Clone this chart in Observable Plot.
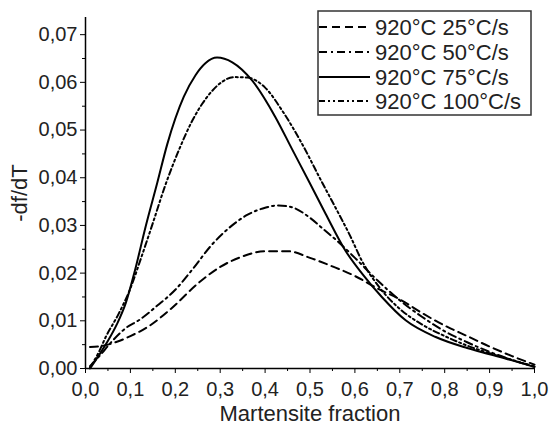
<!DOCTYPE html>
<html>
<head>
<meta charset="utf-8">
<script src="https://cdn.jsdelivr.net/npm/d3@7"></script>
<script src="https://cdn.jsdelivr.net/npm/@observablehq/plot@0.6"></script>
<style>
  html, body { margin: 0; padding: 0; background: #fff; }
  #wrap { position: relative; width: 549px; height: 428px; font-family: "Liberation Sans", Arial, sans-serif; }
  #legend { position: absolute; left: 0; top: 0; }
</style>
</head>
<body>
<div id="wrap"></div>
<script>
// ---- tick values ----
const xTicks = [0, 0.1, 0.2, 0.3, 0.4, 0.5, 0.6, 0.7, 0.8, 0.9, 1.0];
const xMinor = [0.05, 0.15, 0.25, 0.35, 0.45, 0.55, 0.65, 0.75, 0.85, 0.95];
const yTicks = [0, 0.01, 0.02, 0.03, 0.04, 0.05, 0.06, 0.07];
const yMinor = [0.005, 0.015, 0.025, 0.035, 0.045, 0.055, 0.065];

// ---- axis titles and series labels ----
const xTitle = "Martensite fraction";
const yTitle = "-df/dT";
const seriesNames = ["920°C 25°C/s", "920°C 50°C/s", "920°C 75°C/s", "920°C 100°C/s"];

// ---- 920°C 25°C/s (dashed) ----
const x25 = [0.01,0.04,0.07,0.10,0.14,0.19,0.25,0.30,0.35,0.40,0.45,0.50,0.55,0.60,0.65,0.70,0.75,0.80,0.85,0.90,0.95,1.00];
const y25 = [0.0045,0.0048,0.0056,0.0068,0.0088,0.0125,0.0178,0.0213,0.0235,0.0246,0.0246,0.0232,0.0214,0.0194,0.0168,0.0145,0.0116,0.0090,0.0068,0.0046,0.0026,0.0008];

// ---- 920°C 50°C/s (dash-dot) ----
const x50 = [0.01,0.03,0.06,0.09,0.12,0.16,0.20,0.24,0.28,0.32,0.36,0.40,0.43,0.46,0.50,0.53,0.56,0.60,0.65,0.70,0.75,0.80,0.85,0.90,0.95,1.00];
const y50 = [0.0005,0.0025,0.0058,0.0085,0.0102,0.0132,0.0165,0.0210,0.0258,0.0295,0.0322,0.0337,0.0342,0.0338,0.0316,0.0292,0.0268,0.0232,0.0185,0.0143,0.0108,0.0078,0.0055,0.0035,0.0018,0.0004];

// ---- 920°C 75°C/s (solid) ----
const x75 = [0.01,0.03,0.05,0.07,0.09,0.11,0.134,0.16,0.182,0.219,0.245,0.267,0.293,0.327,0.371,0.423,0.46,0.50,0.535,0.579,0.616,0.66,0.713,0.78,0.85,0.90,0.95,1.00];
const y75 = [0.0000,0.0028,0.0058,0.0093,0.0138,0.0205,0.0298,0.0390,0.0470,0.0570,0.0615,0.0640,0.0652,0.0642,0.0604,0.0527,0.0460,0.0388,0.0324,0.0247,0.0199,0.0150,0.0101,0.0066,0.0043,0.0030,0.0017,0.0003];

// ---- 920°C 100°C/s (dash-dot-dot) ----
const x100 = [0.01,0.03,0.045,0.074,0.10,0.125,0.15,0.178,0.208,0.238,0.26,0.282,0.304,0.33,0.36,0.40,0.44,0.48,0.527,0.557,0.59,0.616,0.653,0.70,0.75,0.80,0.85,0.90,0.95,1.00];
const y100 = [0.0002,0.0035,0.0066,0.0115,0.0168,0.0235,0.0305,0.0385,0.0458,0.0520,0.0555,0.0582,0.0601,0.0611,0.0610,0.0589,0.0538,0.0475,0.0390,0.0337,0.0277,0.0225,0.0172,0.0125,0.0092,0.0068,0.0048,0.0032,0.0018,0.0004];

const dashes = ["8,5", "8,4,2,4", null, "6,3,2,3,2,3"];

const toRows = (xs, ys) => xs.map((x, i) => ({x, y: ys[i]}));
const seriesData = [toRows(x25, y25), toRows(x50, y50), toRows(x75, y75), toRows(x100, y100)];

const fmtX = d => d.toFixed(1).replace(".", ",");
const fmtY = d => d.toFixed(2).replace(".", ",");
const FONT = "Liberation Sans, Arial, sans-serif";

const lineMarks = seriesData.map((rows, i) =>
  Plot.line(rows, {x: "x", y: "y", stroke: "#000", strokeWidth: 2, strokeDasharray: dashes[i] ?? undefined, curve: "monotone-x"})
);

const chart = Plot.plot({
  width: 549,
  height: 428,
  marginTop: 17,
  marginRight: 15,
  marginBottom: 60,
  marginLeft: 85,
  style: {fontFamily: FONT, fontSize: "20px", color: "#222", background: "#fff"},
  x: {domain: [0, 1]},
  y: {domain: [0, 0.0736]},
  marks: [
    Plot.axisX(xMinor, {tickSize: 3, tickFormat: () => "", label: null, stroke: "#000"}),
    Plot.axisX(xTicks, {tickSize: 5, tickPadding: 8, tickFormat: fmtX, fontSize: 20, fill: "#222", stroke: "#000", label: null}),
    Plot.axisY(yMinor, {tickSize: 3, tickFormat: () => "", label: null, stroke: "#000"}),
    Plot.axisY(yTicks, {tickSize: 5, tickPadding: 3, tickFormat: fmtY, fontSize: 20, fill: "#222", stroke: "#000", label: null}),
    Plot.text([xTitle], {frameAnchor: "bottom", lineAnchor: "middle", textAnchor: "middle", dy: 45, fontSize: 22, fill: "#222"}),
    Plot.text([yTitle], {frameAnchor: "left", lineAnchor: "middle", textAnchor: "middle", dx: -66, rotate: -90, fontSize: 22, fill: "#222"}),
    Plot.ruleX([0], {stroke: "#000", strokeWidth: 1.5}),
    Plot.ruleY([0], {stroke: "#000", strokeWidth: 1.5}),
    ...lineMarks
  ]
});

const wrap = document.getElementById("wrap");
wrap.appendChild(chart);

// ---- legend (box inside plot, top right) ----
const lg = d3.select(wrap).append("svg")
  .attr("id", "legend")
  .attr("width", 549).attr("height", 428)
  .style("pointer-events", "none");
const box = {x: 318, y: 11, w: 213, h: 104};
lg.append("rect").attr("x", box.x).attr("y", box.y).attr("width", box.w).attr("height", box.h)
  .attr("fill", "#fff").attr("stroke", "#333").attr("stroke-width", 1.5);
const rowY = [27, 52, 77, 101];
seriesNames.forEach((name, i) => {
  const l = lg.append("line").attr("x1", box.x + 1).attr("x2", box.x + 52)
    .attr("y1", rowY[i]).attr("y2", rowY[i])
    .attr("stroke", "#000").attr("stroke-width", 2);
  if (dashes[i]) l.attr("stroke-dasharray", dashes[i]);
  lg.append("text").attr("x", box.x + 57).attr("y", rowY[i]).attr("dy", "0.36em")
    .attr("font-family", FONT).attr("font-size", 22).attr("fill", "#222").text(name);
});
</script>
</body>
</html>
